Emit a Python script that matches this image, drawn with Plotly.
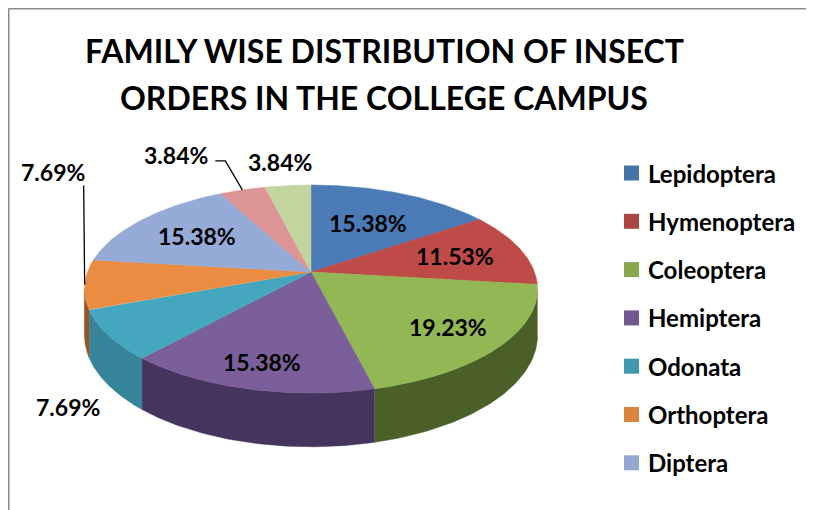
import numpy as np
import plotly.graph_objects as go

# ---------------- data ----------------
orders = ["Lepidoptera", "Hymenoptera", "Coleoptera", "Hemiptera", "Odonata",
          "Orthoptera", "Diptera", "Other 1", "Other 2"]
percent_values = [15.38, 11.53, 19.23, 15.38, 7.69, 7.69, 15.38, 3.84, 3.84]
legend_orders = orders[:7]
title_lines = ["FAMILY WISE DISTRIBUTION OF INSECT", "ORDERS IN THE COLLEGE CAMPUS"]

# ---------------- style ----------------
top_colors = ["#4A7BB7", "#BE4B48", "#93B755", "#7A5F9A", "#45A7BF", "#EB8C43",
              "#95AAD6", "#DC9594", "#C2D59E"]
side_colors = ["#2E4D73", "#6E2C2A", "#4A6028", "#45355E", "#35849A", "#94531F",
               "#5A6E92", "#8E5655", "#748559"]
legend_colors = ["#4572A7", "#AA4643", "#89A54E", "#71588F", "#4198AF", "#DB843D", "#93A9CF"]
FONT = "Lato"

# projection parameters (page pixels)
CX, CY = 311.0, 272.0
SX, SY = 223.5, 101.2
KP = 0.1635           # perspective factor
DEPTH = 45.0          # pie thickness

# label style: inside labels use a radius factor; outside ones an offset from the rim midpoint
label_style = [
    {"r": 0.60}, {"r": 0.68}, {"r": 0.75}, {"r": 0.80},
    {"off": (-40, 72)},
    {"off": (-32, -112), "leader": [(0, 0), (-1, -99)]},
    {"r": 0.66},
    {"off": (-66, -35), "leader": [(0, 0), (-17, -29), (-27, -29)]},
    {"off": (-8, -24)},
]


def proj(phi, r=1.0, depth=0.0):
    X = r * np.sin(phi)
    Z = r * np.cos(phi)
    w = 1 + KP * Z
    return CX + SX * X / w, CY - SY * Z / w + depth / w


total = sum(percent_values)
cum = np.concatenate([[0], np.cumsum(percent_values)]) / total * 2 * np.pi

fig = go.Figure()

# side faces (visible front part)
vis_a = np.arccos(-KP)
vis_b = 2 * np.pi - vis_a
for i in range(len(percent_values)):
    a, b = max(cum[i], vis_a), min(cum[i + 1], vis_b)
    if b <= a:
        continue
    t = np.linspace(a, b, 80)
    xt, yt = proj(t)
    xb, yb = proj(t[::-1], depth=DEPTH)
    fig.add_trace(go.Scatter(x=np.concatenate([xt, xb]), y=np.concatenate([yt, yb]),
                             fill="toself", fillcolor=side_colors[i], mode="lines",
                             line=dict(width=0.5, color=side_colors[i]),
                             hoverinfo="skip", showlegend=False))

# top faces
for i in range(len(percent_values)):
    t = np.linspace(cum[i], cum[i + 1], 80)
    xa, ya = proj(t)
    x = np.concatenate([[CX], xa, [CX]])
    y = np.concatenate([[CY], ya, [CY]])
    fig.add_trace(go.Scatter(x=x, y=y, fill="toself", fillcolor=top_colors[i],
                             mode="lines", line=dict(width=0.5, color=top_colors[i]),
                             hoverinfo="skip", showlegend=False))

annotations = []
# data labels
for i, v in enumerate(percent_values):
    mid = (cum[i] + cum[i + 1]) / 2
    st = label_style[i]
    if "r" in st:
        lx, ly = proj(mid, st["r"])
    else:
        ex, ey = proj(mid, 1.0)
        lx, ly = ex + st["off"][0], ey + st["off"][1]
        if "leader" in st:
            px = [ex + dx for dx, dy in st["leader"]]
            py = [ey + dy for dx, dy in st["leader"]]
            fig.add_trace(go.Scatter(x=px, y=py, mode="lines",
                                     line=dict(color="black", width=1.3),
                                     hoverinfo="skip", showlegend=False))
    annotations.append(dict(x=lx, y=ly, xref="x", yref="y", text=f"{v:.2f}%",
                            showarrow=False, xanchor="center", yanchor="middle",
                            font=dict(family=FONT, size=23, color="black", weight="bold")))

# legend (manual, Excel-like)
shapes = []
for j, name in enumerate(legend_orders):
    yc = 173 + 48.3 * j
    shapes.append(dict(type="rect", xref="x", yref="y", x0=624, x1=639, y0=yc - 7.5, y1=yc + 7.5,
                       fillcolor=legend_colors[j], line=dict(width=0)))
    annotations.append(dict(x=646, y=yc, xref="x", yref="y", text=name, showarrow=False,
                            xanchor="left", yanchor="middle",
                            font=dict(family=FONT, size=24, color="black", weight="bold")))

# title
for k, line in enumerate(title_lines):
    annotations.append(dict(x=384, y=50 + 47 * k, xref="x", yref="y", text=line, showarrow=False,
                            xanchor="center", yanchor="middle",
                            font=dict(family=FONT, size=32, color="black", weight="bold")))

# chart frame
shapes.append(dict(type="line", xref="x", yref="y", x0=8.5, y0=8.5, x1=830, y1=8.5,
                   line=dict(color="#8C8C8C", width=2)))
shapes.append(dict(type="line", xref="x", yref="y", x0=8.5, y0=8.5, x1=8.5, y1=530,
                   line=dict(color="#8C8C8C", width=2)))

# the page body adds an 8px offset; axis ranges are chosen so data units equal page pixels
fig.update_layout(
    width=814, height=510,
    margin=dict(l=0, r=0, t=0, b=0),
    paper_bgcolor="white", plot_bgcolor="white",
    xaxis=dict(range=[8, 822], visible=False, fixedrange=True),
    yaxis=dict(range=[518, 8], visible=False, fixedrange=True),
    annotations=annotations, shapes=shapes, showlegend=False,
)

fig.write_html("out.html")
